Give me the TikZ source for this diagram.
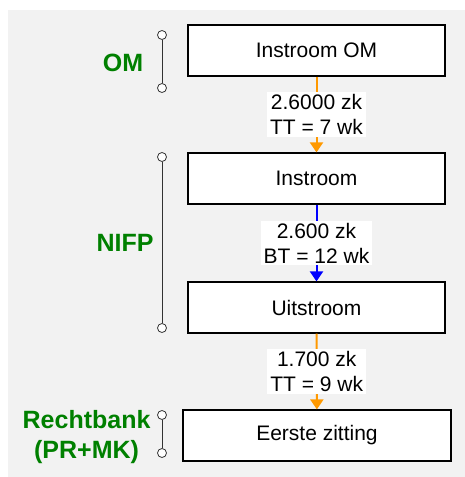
\documentclass[tikz,border=0pt]{standalone}
\usepackage{fontspec}
\setmainfont{Liberation Sans}
\usetikzlibrary{arrows.meta,positioning}
\definecolor{bggray}{HTML}{F2F2F2}
\definecolor{floworange}{HTML}{FF9900}
\definecolor{partgreen}{HTML}{008000}

\begin{document}
\begin{tikzpicture}[x=1pt, y=-1pt,
  stage/.style={draw=black, line width=1.2pt, fill=white, minimum width=257pt, minimum height=51pt, inner sep=0pt, font=\fontsize{21}{25}\selectfont},
  flowlab/.style={fill=white, text=black, align=center, inner xsep=3pt, inner ysep=2pt, font=\fontsize{21}{25}\selectfont},
  flow/.style={line width=2pt, -{Triangle[width=13pt,length=10pt]}},
  part/.style={text=partgreen, align=center, font=\fontsize{25}{30}\selectfont\bfseries},
  tick/.style={circle, draw=black!80, fill=white, line width=0.8pt, minimum size=9pt, inner sep=0pt},
  span/.style={draw=black!80, line width=1pt}]
% background
  \useasboundingbox (0,0) rectangle (465,477);
  \fill[bggray] (8,10) rectangle (465,477);

% stages
  \node[stage] (instroomom) at (316.5,50.5) {Instroom OM};
  \node[stage] (instroom) at (316.5,178.5) {Instroom};
  \node[stage] (uitstroom) at (316.5,307.5) {Uitstroom};
  \node[stage, minimum width=268pt] (zitting) at (317,435.5) {Eerste zitting};

% flows
  \draw[flow, floworange] (instroomom) -- node[flowlab] (omlab) {2.6000 zk\\TT = 7 wk} (instroom);
  \draw[flow, blue] (instroom) -- node[flowlab] (nifplab) {2.600 zk\\BT = 12 wk} (uitstroom);
  \draw[flow, floworange] (uitstroom) -- node[flowlab] (rblab) {1.700 zk\\TT = 9 wk} (zitting);

% brackets
  \node[tick] (omtop) at (162,35) {};
  \node[tick] (ombot) at (162,88) {};
  \draw[span] (omtop) -- (ombot);
  \node[part] (om) at (123,63) {OM};

  \node[tick] (nifptop) at (162,157) {};
  \node[tick] (nifpbot) at (162,328) {};
  \draw[span] (nifptop) -- (nifpbot);
  \node[part] (nifp) at (125,243) {NIFP};

  \node[tick] (rbtop) at (162,415) {};
  \node[tick] (rbbot) at (162,453) {};
  \draw[span] (rbtop) -- (rbbot);
  \node[part, anchor=east] (rb) at (154,437) {Rechtbank\\(PR+MK)};
\end{tikzpicture}
\end{document}
